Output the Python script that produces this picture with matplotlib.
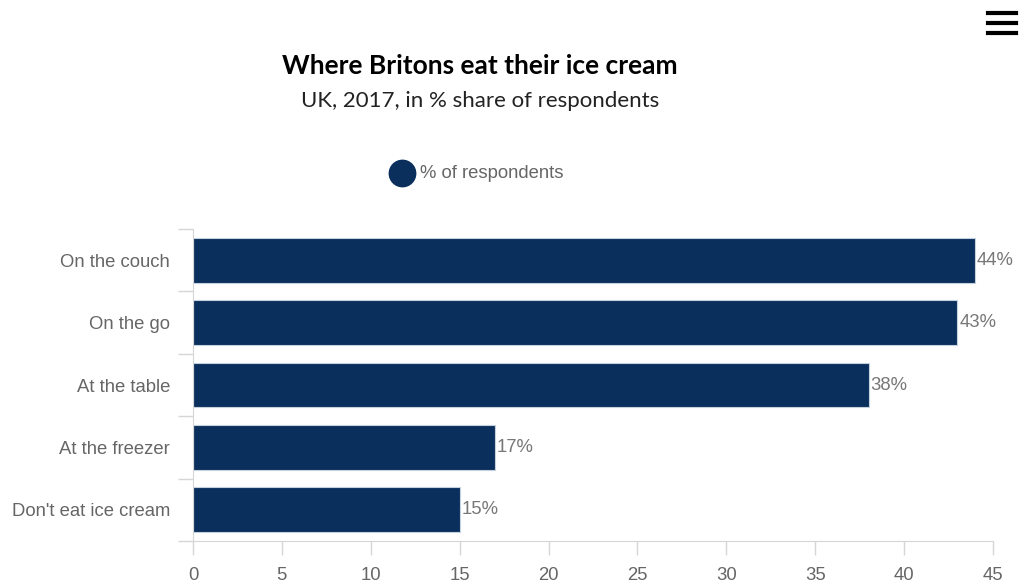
import matplotlib.pyplot as plt
import numpy as np

categories = ["On the couch", "On the go", "At the table", "At the freezer", "Don't eat ice cream"]
values = [44, 43, 38, 17, 15]
x_ticks = [0, 5, 10, 15, 20, 25, 30, 35, 40, 45]

bar_color = "#0a2f5c"
grid_color = "#d6d6d6"
text_color = "#666666"

fig = plt.figure(figsize=(10.24, 5.87), dpi=100)
ax = fig.add_axes([193 / 1024, 46 / 587, 800 / 1024, 312 / 587])

y = np.arange(len(categories))
ax.barh(y, values, height=0.72, color=bar_color, edgecolor="#c5d0dd", linewidth=0.8)

for yi, v in zip(y, values):
    ax.text(v + 0.1, yi, f"{v}%", va="center", ha="left",
            fontsize=13.3, color="#777777", family="Liberation Sans")

ax.set_xlim(0, 45)
ax.set_ylim(len(categories) - 0.5, -0.5)
ax.set_xticks(x_ticks)
ax.set_xticklabels([str(t) for t in x_ticks], fontsize=13.3, color=text_color,
                   family="Liberation Sans")
ax.set_yticks(y)
ax.set_yticklabels(categories, fontsize=13.3, color=text_color, family="Liberation Sans")
ax.set_yticks(np.arange(-0.5, len(categories)), minor=True)
ax.tick_params(axis="y", which="major", length=0, pad=16.5)
ax.tick_params(axis="y", which="minor", length=11, width=1, color=grid_color)
ax.tick_params(axis="x", length=10, width=1, color=grid_color, pad=9)

for side in ["top", "right"]:
    ax.spines[side].set_visible(False)
ax.spines["left"].set_color(grid_color)
ax.spines["bottom"].set_color(grid_color)

fig.text(480 / 1024, 1 - 66 / 587, "Where Britons eat their ice cream", ha="center", va="center",
         fontsize=19, fontweight="bold", family="Lato", color="black")
fig.text(480 / 1024, 1 - 101 / 587, "UK, 2017, in % share of respondents", ha="center", va="center",
         fontsize=16, family="Lato", color="#222222")

# legend
fig.add_artist(plt.Line2D([402 / 1024], [1 - 173 / 587], marker="o", markersize=19,
                          color=bar_color, linestyle="none", transform=fig.transFigure))
fig.text(420 / 1024, 1 - 173.5 / 587, "% of respondents", ha="left", va="center",
         fontsize=13.3, color=text_color, family="Liberation Sans")

# menu icon
for yy in [13, 23, 33]:
    fig.add_artist(plt.Line2D([988 / 1024, 1016 / 1024], [1 - yy / 587, 1 - yy / 587],
                              color="black", linewidth=3, transform=fig.transFigure))

fig.savefig("out.png", dpi=100)
